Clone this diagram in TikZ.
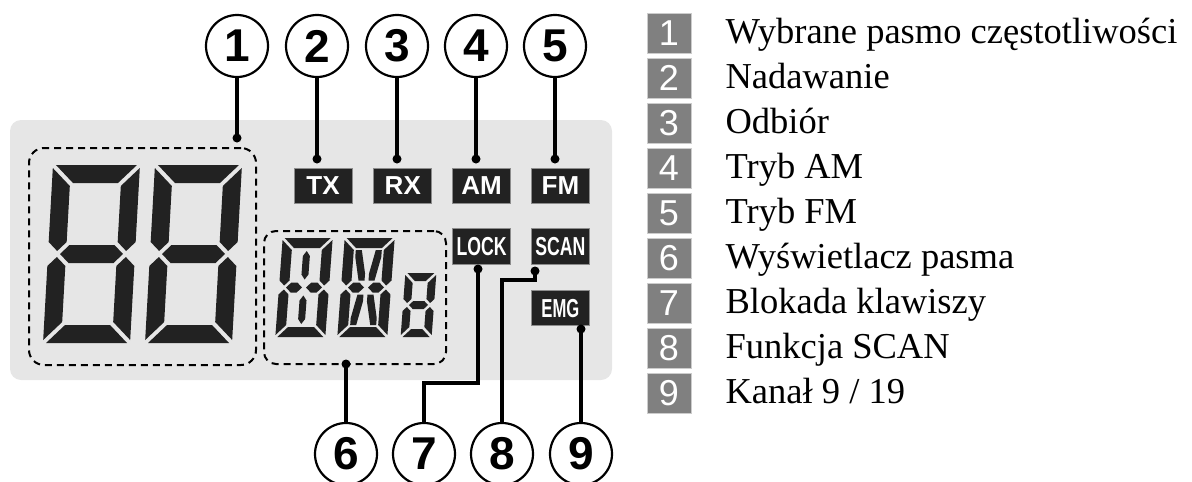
\documentclass[tikz,border=0pt]{standalone}
\usepackage{fontspec}
\setmainfont{Liberation Serif}
\setsansfont{Liberation Sans}
\usepackage{graphicx}
\usetikzlibrary{positioning}

\definecolor{lcdbg}{HTML}{E6E6E6}
\definecolor{lcdseg}{HTML}{222222}
\definecolor{leggray}{HTML}{808080}

% segment macros: width, half height, thickness, gap
\newcommand{\segframe}[4]{%
  \fill[lcdseg] (#4,-#2) -- ({#1-#4},-#2) -- ({#1-#3-#4},{-#2+#3}) -- ({#3+#4},{-#2+#3}) -- cycle;
  \fill[lcdseg] (#4,#2) -- ({#1-#4},#2) -- ({#1-#3-#4},{#2-#3}) -- ({#3+#4},{#2-#3}) -- cycle;
  \foreach \sy in {1,-1} {%
    \fill[lcdseg] (0,{\sy*(#2-#4)}) -- (#3,{\sy*(#2-#3-#4)}) -- (#3,{\sy*(#3/2+#4)})
      -- ({#3/2},{\sy*#4}) -- (0,{\sy*(#3/2+#4)}) -- cycle;
    \fill[lcdseg] (#1,{\sy*(#2-#4)}) -- ({#1-#3},{\sy*(#2-#3-#4)}) -- ({#1-#3},{\sy*(#3/2+#4)})
      -- ({#1-#3/2},{\sy*#4}) -- (#1,{\sy*(#3/2+#4)}) -- cycle;}}
% middle segment: width, thickness, gap
\newcommand{\segmid}[3]{%
  \fill[lcdseg] ({#2/2+#3},0) -- ({#2+#3},{-#2/2}) -- ({#1-#2-#3},{-#2/2}) -- ({#1-#2/2-#3},0)
    -- ({#1-#2-#3},{#2/2}) -- ({#2+#3},{#2/2}) -- cycle;}
% middle split in two halves
\newcommand{\segsplit}[3]{%
  \fill[lcdseg] ({#2/2+#3},0) -- ({#2+#3},{-#2/2}) -- ({#1/2-#3-#2/2},{-#2/2}) -- ({#1/2-#3},0)
    -- ({#1/2-#3-#2/2},{#2/2}) -- ({#2+#3},{#2/2}) -- cycle;
  \fill[lcdseg] ({#1-#2/2-#3},0) -- ({#1-#2-#3},{-#2/2}) -- ({#1/2+#3+#2/2},{-#2/2}) -- ({#1/2+#3},0)
    -- ({#1/2+#3+#2/2},{#2/2}) -- ({#1-#2-#3},{#2/2}) -- cycle;}
% centre bars
\newcommand{\segbar}[4]{%
  \foreach \sy in {1,-1}
    \fill[lcdseg] ({#1/2},{\sy*(#2-#3-#4-1)}) -- ({#1/2+3.5},{\sy*(#2-#3-#4-6)}) -- ({#1/2+3.5},{\sy*(#3/2+#4+6)})
      -- ({#1/2},{\sy*(#3/2+#4+1)}) -- ({#1/2-3.5},{\sy*(#3/2+#4+6)}) -- ({#1/2-3.5},{\sy*(#2-#3-#4-6)}) -- cycle;}
% diagonals
\newcommand{\segdiag}[4]{%
  \foreach \sx in {1,-1} {\foreach \sy in {1,-1} {%
    \fill[lcdseg] ({#1/2-(\sx)*(#1/2-#3-#4)},{\sy*(#2-#3-#4)}) -- ({#1/2-(\sx)*(#1/2-#3-#4-6)},{\sy*(#2-#3-#4)})
      -- ({#1/2-(\sx)*#4},{\sy*(#3/2+#4+7)}) -- ({#1/2-(\sx)*#4},{\sy*(#3/2+#4)})
      -- ({#1/2-(\sx)*(#4+6)},{\sy*(#3/2+#4)}) -- ({#1/2-(\sx)*(#1/2-#3-#4)},{\sy*(#2-#3-#4-7)}) -- cycle;}}}

\tikzset{
  callout/.style={circle,draw,line width=2.2pt,fill=white,minimum size=62pt,inner sep=0pt,
    font=\sffamily\bfseries\fontsize{46}{46}\selectfont},
  tag/.style={fill=lcdseg,draw=black!45,line width=0.8pt,minimum width=58pt,minimum height=35pt,
    inner sep=0pt,text=white,font=\sffamily\bfseries\fontsize{26}{26}\selectfont},
  lead/.style={line width=3.2pt},
  zone/.style={draw,dash pattern=on 7pt off 5pt,line width=2pt,rounded corners=15pt,inner sep=0pt},
  legbox/.style={fill=leggray,draw=black!20,line width=0.8pt,minimum width=44pt,minimum height=40pt,
    inner sep=0pt,text=white,font=\sffamily\fontsize{36}{36}\selectfont},
  legtext/.style={inner sep=0pt,text height=27pt,text depth=7pt,font=\fontsize{36.5}{37}\selectfont},
}

\begin{document}
\begin{tikzpicture}[x=1pt,y=-1pt]
  \useasboundingbox (0,0) rectangle (1192,482);
  %%%%%%%%%%%%%%%%% lcd panel %%%%%%%%%%%%%%%%%%%
  \fill[lcdbg,rounded corners=11pt] (10,120) rectangle (612,380);

  % channel digits
  \foreach \x in {48,150} {%
    \begin{scope}[shift={(\x,254)},xslant=0.056]
      \segframe{87}{89}{18}{3}\segmid{87}{18}{3}
    \end{scope}}

  % band display
  \begin{scope}[shift={(279,287.5)},xslant=0.075]
    \segframe{50}{49.5}{10}{2}\segsplit{50}{10}{2}\segbar{50}{49.5}{10}{2}
  \end{scope}
  \begin{scope}[shift={(341,287.5)},xslant=0.075]
    \segframe{50}{49.5}{10}{2}\segsplit{50}{10}{2}\segdiag{50}{49.5}{10}{2}
  \end{scope}
  \begin{scope}[shift={(403,305)},xslant=0.075]
    \segframe{31}{32}{8}{2}\segmid{31}{8}{2}
  \end{scope}

  \node[zone,minimum width=227pt,minimum height=217pt] (chzone) at (142.5,256.5) {};
  \node[zone,rounded corners=12pt,minimum width=182pt,minimum height=133pt] (bandzone) at (355,297.5) {};

  %%%%%%%%%%%%%%%%% indicators %%%%%%%%%%%%%%%%%%%
  \node[tag] (tx) at (323,185.5) {TX};
  \node[tag,right=21pt of tx] (rx) {RX};
  \node[tag,right=20pt of rx] (am) {AM};
  \node[tag,right=20pt of am] (fm) {FM};
  \node[tag,minimum height=36pt,below=25pt of am] (lock) {\scalebox{0.68}[1]{LOCK}};
  \node[tag,minimum height=36pt,below=25pt of fm] (scan) {\scalebox{0.68}[1]{SCAN}};
  \node[tag,below=25pt of scan] (emg) {\scalebox{0.64}[1]{EMG}};

  %%%%%%%%%%%%%%%%% callouts %%%%%%%%%%%%%%%%%%%%%
  \foreach \n/\x in {1/237,2/317,3/397,4/476,5/555}
    {\node[callout] (c\n) at (\x,46) {\n};}
  \foreach \n/\x in {6/346,7/424,8/502,9/581}
    {\node[callout] (c\n) at (\x,454) {\n};}

  % lead ends
  \coordinate (d1) at (237,138);
  \foreach \n/\x in {2/317,3/397,4/476,5/555} {\coordinate (d\n) at (\x,159);}
  \coordinate (d6) at (346,364);
  \coordinate (d7) at (478,269);
  \coordinate (d8) at (535,271);
  \coordinate (d9) at (581,329);
  \coordinate (j7) at (424,383);
  \coordinate (j8) at (502,280);

  \foreach \n in {1,...,6,9} {\draw[lead] (c\n) -- (d\n);}
  \draw[lead] (d7) |- (j7) -- (c7);
  \draw[lead] (d8) |- (j8) -- (c8);
  \foreach \n in {1,...,9} {\fill (d\n) circle (4.5pt);}

  %%%%%%%%%%%%%%%%% legend %%%%%%%%%%%%%%%%%%%%%%%
  \foreach \n/\txt in {1/Wybrane pasmo częstotliwości,2/Nadawanie,3/Odbiór,4/Tryb AM,5/Tryb FM,
      6/Wyświetlacz pasma,7/Blokada klawiszy,8/Funkcja SCAN,9/{Kanał 9 / 19}} {%
    \node[legbox] (l\n) at (669,{33+45*(\n-1)}) {\n};
    \node[legtext,right=34pt of l\n] (t\n) {\txt};}
\end{tikzpicture}
\end{document}
